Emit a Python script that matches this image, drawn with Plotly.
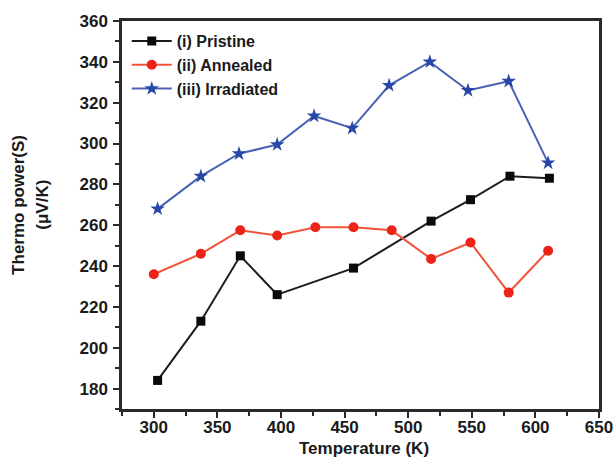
import plotly.graph_objects as go

# Thermo power vs temperature for three sample conditions
temp_pristine = [303, 337, 368, 397, 457, 518, 549, 580, 611]
s_pristine = [184, 213, 245, 226, 239, 262, 272.5, 284, 283]

temp_annealed = [300, 337, 368, 397, 427, 457, 487, 518, 549, 579, 610]
s_annealed = [236, 246, 257.5, 255, 259, 259, 257.5, 243.5, 251.5, 227, 247.5]

temp_irradiated = [303, 337, 367, 397, 426, 456, 485, 517, 547, 579, 610]
s_irradiated = [268, 284, 295, 299.5, 313.5, 307.5, 328.5, 340, 326, 330.5, 290.5]

x_ticks = [300, 350, 400, 450, 500, 550, 600, 650]
y_ticks = [180, 200, 220, 240, 260, 280, 300, 320, 340, 360]

FONT = "Liberation Sans, Arial, sans-serif"
INK = "#1a1a1a"

fig = go.Figure()
fig.add_trace(go.Scatter(
    x=temp_pristine, y=s_pristine, mode="lines+markers", name="(i) Pristine",
    line=dict(color="#1c1c1c", width=2),
    marker=dict(symbol="square", size=9, color="#0a0a0a"),
))
fig.add_trace(go.Scatter(
    x=temp_annealed, y=s_annealed, mode="lines+markers", name="(ii) Annealed",
    line=dict(color="#f0553c", width=2),
    marker=dict(symbol="circle", size=10, color="#ec2418"),
))
fig.add_trace(go.Scatter(
    x=temp_irradiated, y=s_irradiated, mode="lines+markers", name="(iii) Irradiated",
    line=dict(color="#4a62b4", width=2),
    marker=dict(symbol="star", size=11, color="#2747a6"),
))

axis_common = dict(
    showgrid=False, zeroline=False, showline=True, linecolor="#2a2a2a",
    linewidth=2.5, mirror=True, ticks="outside", ticklen=6, tickwidth=2,
    tickcolor="#2a2a2a", automargin=False,
    tickfont=dict(family=FONT, size=17, color=INK, weight="bold"),
)

fig.update_xaxes(
    range=[275, 650], tickvals=x_ticks, ticklabelstandoff=-5,
    minor=dict(dtick=25, ticks="outside", ticklen=4, tickwidth=2, tickcolor="#2a2a2a"),
    **axis_common,
)
fig.update_yaxes(
    range=[170, 360], tickvals=y_ticks, ticklabelstandoff=2,
    minor=dict(dtick=10, ticks="outside", ticklen=4, tickwidth=2, tickcolor="#2a2a2a"),
    **axis_common,
)

# axis labels
title_font = dict(family=FONT, size=17, color=INK, weight="bold")
fig.add_annotation(
    text="Temperature (K)", xref="paper", yref="paper",
    x=0.508, y=-0.102, xanchor="center", yanchor="middle",
    showarrow=False, font=title_font,
)
for text, xpos in (("Thermo power(S)", -0.216), ("(μV/K)", -0.166)):
    fig.add_annotation(
        text=text, xref="paper", yref="paper",
        x=xpos, y=0.526, xanchor="center", yanchor="middle",
        showarrow=False, textangle=-90, font=title_font,
    )

fig.update_layout(
    width=615, height=459,
    margin=dict(l=122, r=16, t=21, b=50),
    paper_bgcolor="white", plot_bgcolor="white",
    showlegend=True,
    legend=dict(
        x=0.01, y=0.992, xanchor="left", yanchor="top",
        bgcolor="rgba(0,0,0,0)", itemwidth=40, tracegroupgap=0,
        font=dict(family=FONT, size=16, color=INK, weight="bold"),
    ),
)

fig.write_html("out.html")
